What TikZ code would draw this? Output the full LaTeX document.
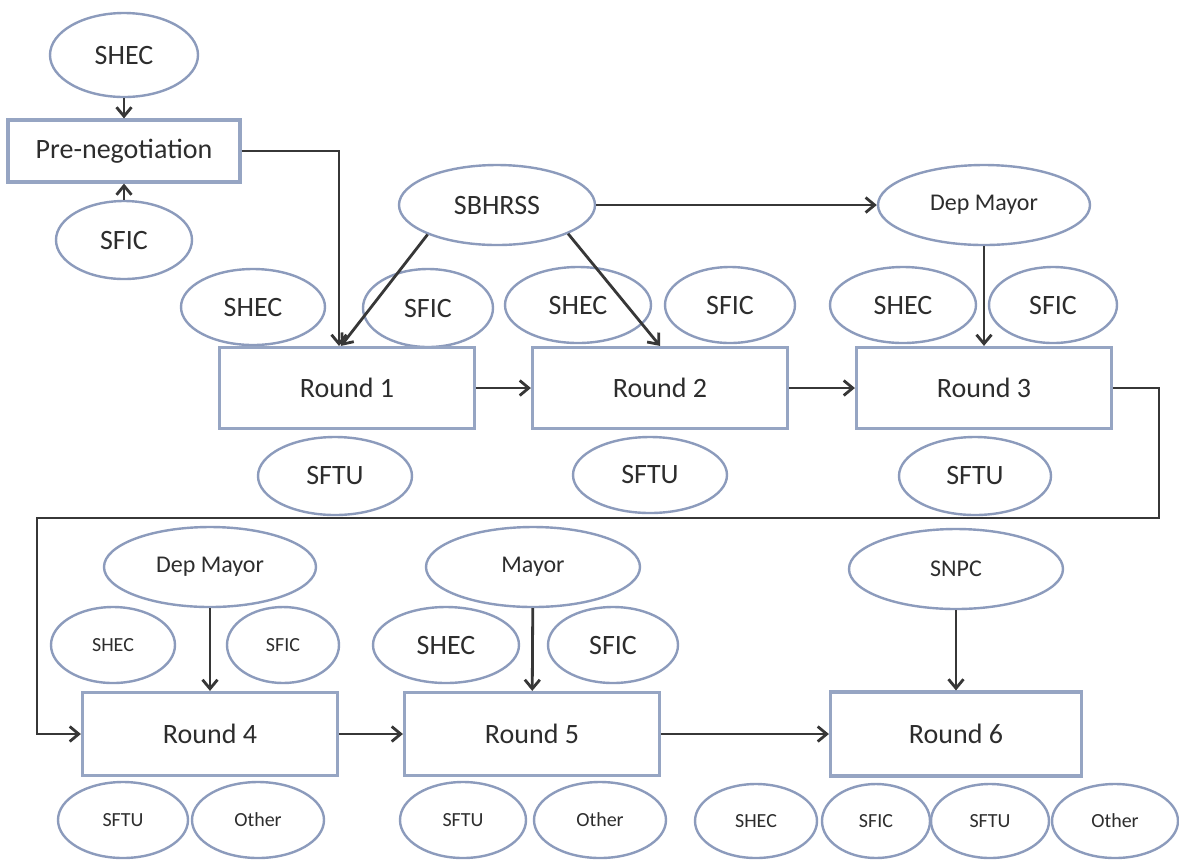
\documentclass[tikz,border=0pt]{standalone}
\usepackage{fontspec}
\setmainfont{Carlito}
\usetikzlibrary{shapes.geometric,arrows.meta}
\definecolor{ovalblue}{RGB}{140,155,188}
\definecolor{boxblue}{RGB}{150,165,195}
\definecolor{linegray}{RGB}{55,55,55}
\definecolor{txtgray}{RGB}{45,45,45}

\begin{document}
\begin{tikzpicture}[x=0.5pt,y=-0.5pt,
  oval/.style={ellipse,draw=ovalblue,line width=1.2pt,inner sep=0pt,text=txtgray,font=\fontsize{14}{16}\selectfont},
  smalltxt/.style={font=\fontsize{10}{12}\selectfont},
  midtxt/.style={font=\fontsize{12}{14}\selectfont},
  roundbox/.style={rectangle,draw=boxblue,line width=1.6pt,inner sep=0pt,text=txtgray,font=\fontsize{14}{16}\selectfont},
  arr/.style={draw=linegray,line width=1.4pt,-{Straight Barb[length=4.5pt,width=7.5pt]}}]
\path[use as bounding box,fill=white] (0,0) rectangle (1179,859);

\node[oval,minimum width=74pt,minimum height=42pt] (shecA) at (124,55) {SHEC};
\node[roundbox,minimum width=116pt,minimum height=31pt] (pre) at (124,151) {Pre-negotiation};
\node[oval,minimum width=68pt,minimum height=39pt] (sficA) at (124,240) {SFIC};

\node[oval,minimum width=98pt,minimum height=40pt] (sbhrss) at (497,205) {SBHRSS};
\node[oval,midtxt,minimum width=106pt,minimum height=40pt] (depA) at (984,205) {Dep Mayor};

\node[oval,minimum width=72pt,minimum height=38pt] (shec1) at (253,307) {SHEC};
\node[oval,minimum width=65pt,minimum height=39pt] (sfic1) at (428,308) {SFIC};
\node[oval,minimum width=73pt,minimum height=38pt] (shec2) at (578,305) {SHEC};
\node[oval,minimum width=65pt,minimum height=38pt] (sfic2) at (730,305) {SFIC};
\node[oval,minimum width=73pt,minimum height=38pt] (shec3) at (903,305) {SHEC};
\node[oval,minimum width=64pt,minimum height=38pt] (sfic3) at (1053,305) {SFIC};

\node[roundbox,minimum width=127.5pt,minimum height=40.5pt] (r1) at (347,388) {Round 1};
\node[roundbox,minimum width=127.5pt,minimum height=40.5pt] (r2) at (660,388) {Round 2};
\node[roundbox,minimum width=127.5pt,minimum height=40.5pt] (r3) at (984,388) {Round 3};

\node[oval,minimum width=77pt,minimum height=39pt] (sftu1) at (335,476) {SFTU};
\node[oval,minimum width=77pt,minimum height=38pt] (sftu2) at (650,475) {SFTU};
\node[oval,minimum width=76pt,minimum height=39pt] (sftu3) at (975,476) {SFTU};

\node[oval,midtxt,minimum width=106pt,minimum height=40pt] (depB) at (210,567) {Dep Mayor};
\node[oval,midtxt,minimum width=107pt,minimum height=40pt] (mayor) at (533,567) {Mayor};
\node[oval,midtxt,minimum width=107pt,minimum height=40pt] (snpc) at (956,569) {SNPC};

\node[oval,smalltxt,minimum width=62pt,minimum height=38pt] (shec4) at (113,645) {SHEC};
\node[oval,smalltxt,minimum width=56pt,minimum height=38pt] (sfic4) at (283,645) {SFIC};
\node[oval,minimum width=73pt,minimum height=38pt] (shec5) at (446,645) {SHEC};
\node[oval,minimum width=65pt,minimum height=38pt] (sfic5) at (613,645) {SFIC};

\node[roundbox,minimum width=127.5pt,minimum height=41.5pt] (r4) at (210,734) {Round 4};
\node[roundbox,minimum width=127.5pt,minimum height=41.5pt] (r5) at (532,734) {Round 5};
\node[roundbox,minimum width=125.5pt,minimum height=42pt] (r6) at (956,734) {Round 6};

\node[oval,smalltxt,minimum width=65pt,minimum height=38pt] (sftu4) at (123,820) {SFTU};
\node[oval,smalltxt,minimum width=66pt,minimum height=38pt] (oth4) at (258,820) {Other};
\node[oval,smalltxt,minimum width=63pt,minimum height=38pt] (sftu5) at (463,820) {SFTU};
\node[oval,smalltxt,minimum width=66pt,minimum height=38pt] (oth5) at (600,820) {Other};
\node[oval,smalltxt,minimum width=61pt,minimum height=37pt] (shec6) at (756,821) {SHEC};
\node[oval,smalltxt,minimum width=54pt,minimum height=37pt] (sfic6) at (876,821) {SFIC};
\node[oval,smalltxt,minimum width=59pt,minimum height=37pt] (sftu6) at (990,821) {SFTU};
\node[oval,smalltxt,minimum width=63pt,minimum height=37pt] (oth6) at (1115,821) {Other};

\coordinate (turnA) at (1159,518);
\coordinate (turnB) at (37,518);

\draw[arr] (shecA) -- (pre);
\draw[arr] (sficA) -- (pre);
\draw[arr] (pre.east) -| ([xshift=-4pt]r1.north);
\draw[arr] (sbhrss.203) -- ([xshift=-3pt]r1.north);
\draw[arr] (sbhrss.-22) -- (r2.north);
\draw[arr] (sbhrss) -- (depA);
\draw[arr] (depA) -- (r3);
\draw[arr] (r1) -- (r2);
\draw[arr] (r2) -- (r3);
\draw[arr] (r3.east) -| (turnA) -- (turnB) |- (r4.west);
\draw[arr] (depB) -- (r4);
\draw[arr] (mayor) -- (r5);
\draw[arr] (snpc) -- (r6);
\draw[arr] (r4) -- (r5);
\draw[arr] (r5) -- (r6);
\end{tikzpicture}
\end{document}
